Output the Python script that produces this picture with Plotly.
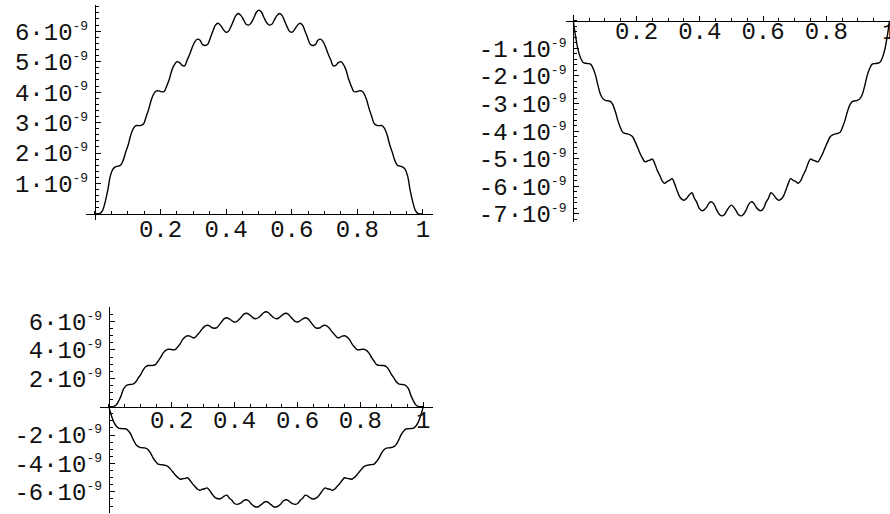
import plotly.graph_objects as go

# sample points along x (read at steps of 1/128)
X = [0, .0078, .0156, .0234, .0313, .0391, .0469, .0547, .0625, .0703, .0781, .0859,
     .0938, .1016, .1094, .1172, .125, .1328, .1406, .1484, .1563, .1641, .1719, .1797,
     .1875, .1953, .2031, .2109, .2188, .2266, .2344, .2422, .25, .2578, .2656, .2734,
     .2813, .2891, .2969, .3047, .3125, .3203, .3281, .3359, .3438, .3516, .3594, .3672,
     .375, .3828, .3906, .3984, .4063, .4141, .4219, .4297, .4375, .4453, .4531, .4609,
     .4688, .4766, .4844, .4922, .5,
     .5078, .5156, .5234, .5313, .5391, .5469, .5547, .5625, .5703, .5781, .5859, .5938,
     .6016, .6094, .6172, .625, .6328, .6406, .6484, .6563, .6641, .6719, .6797, .6875,
     .6953, .7031, .7109, .7188, .7266, .7344, .7422, .75, .7578, .7656, .7734, .7813,
     .7891, .7969, .8047, .8125, .8203, .8281, .8359, .8438, .8516, .8594, .8672, .875,
     .8828, .8906, .8984, .9063, .9141, .9219, .9297, .9375, .9453, .9531, .9609, .9688,
     .9766, .9844, .9922, 1]

# upper curve, in units of 1e-9
F1 = [0.00, 0.00, 0.02, 0.12, 0.40, 0.78, 1.25, 1.47, 1.55, 1.57, 1.60, 1.76, 2.03,
      2.28, 2.60, 2.81, 2.90, 2.90, 2.91, 2.96, 3.20, 3.45, 3.75, 3.95, 4.04, 4.04,
      4.01, 4.02, 4.20, 4.42, 4.72, 4.90, 5.00, 4.97, 4.88, 4.86, 5.06, 5.25, 5.48,
      5.66, 5.74, 5.70, 5.56, 5.53, 5.57, 5.78, 6.00, 6.20, 6.26, 6.19, 6.07, 5.97,
      5.99, 6.14, 6.33, 6.52, 6.58, 6.51, 6.37, 6.23, 6.20, 6.28, 6.44, 6.62, 6.69,
      6.62, 6.44, 6.28, 6.20, 6.23, 6.37, 6.51, 6.58, 6.52, 6.33, 6.14, 5.99, 5.97,
      6.07, 6.19, 6.26, 6.20, 6.00, 5.78, 5.57, 5.53, 5.56, 5.70, 5.74, 5.66, 5.48,
      5.25, 5.06, 4.86, 4.88, 4.97, 5.00, 4.90, 4.72, 4.42, 4.20, 4.02, 4.01, 4.04,
      4.04, 3.95, 3.75, 3.45, 3.20, 2.96, 2.91, 2.90, 2.90, 2.81, 2.60, 2.28, 2.03,
      1.76, 1.60, 1.57, 1.55, 1.47, 1.25, 0.78, 0.40, 0.12, 0.02, 0.00, 0.00]

# lower curve, in units of 1e-9
F2 = [0.00, -0.60, -1.07, -1.36, -1.51, -1.54, -1.55, -1.57, -1.72, -1.97, -2.34, -2.66,
      -2.82, -2.88, -2.90, -2.92, -3.04, -3.28, -3.60, -3.85, -4.04, -4.08, -4.10, -4.13,
      -4.20, -4.38, -4.58, -4.80, -4.98, -5.11, -5.08, -5.05, -5.01, -5.18, -5.42, -5.60,
      -5.80, -5.89, -5.82, -5.78, -5.72, -5.90, -6.15, -6.36, -6.47, -6.50, -6.42, -6.30,
      -6.23, -6.43, -6.58, -6.80, -6.88, -6.85, -6.75, -6.60, -6.56, -6.65, -6.85, -7.00,
      -7.07, -7.04, -6.90, -6.76, -6.68,
      -6.76, -6.90, -7.04, -7.07, -7.00, -6.85, -6.65, -6.56, -6.60, -6.75, -6.85, -6.88,
      -6.80, -6.58, -6.43, -6.23, -6.30, -6.42, -6.50, -6.47, -6.36, -6.15, -5.90, -5.72,
      -5.78, -5.82, -5.89, -5.80, -5.60, -5.42, -5.18, -5.01, -5.05, -5.08, -5.11, -4.98,
      -4.80, -4.58, -4.38, -4.20, -4.13, -4.10, -4.08, -4.04, -3.85, -3.60, -3.28, -3.04,
      -2.92, -2.90, -2.88, -2.82, -2.66, -2.34, -1.97, -1.72, -1.57, -1.55, -1.54, -1.51,
      -1.36, -1.07, -0.60, 0.00]

assert len(X) == len(F1) == len(F2), (len(X), len(F1), len(F2))

X_TICKS = [0.2, 0.4, 0.6, 0.8, 1]
X_LABELS = ["0.2", "0.4", "0.6", "0.8", "1"]
Y1_TICKS = [1, 2, 3, 4, 5, 6]
Y2_TICKS = [-7, -6, -5, -4, -3, -2, -1]
Y3_TICKS = [-6, -4, -2, 2, 4, 6]

E = 1e-9
FONT = dict(family="Liberation Mono, Courier New, monospace", size=24, color="#111")


def sci(v):
    return f"{v}\u00b710<sup><span style='font-size:13px'>-9</span></sup>"


def zero_pos(rng, dom):
    return dom[0] + (0 - rng[0]) / (rng[1] - rng[0]) * (dom[1] - dom[0])


def axis(rng, dom, pos, vals, text, minor_step, standoff):
    return dict(range=rng, domain=dom, anchor="free", position=pos,
                showgrid=False, zeroline=False, showline=True,
                linecolor="black", linewidth=1, automargin=False,
                ticks="inside", ticklen=5, tickwidth=1, tickcolor="black",
                tickmode="array", tickvals=vals, ticktext=text,
                tickfont=FONT, ticklabeloverflow="allow",
                ticklabelstandoff=standoff,
                minor=dict(tickmode="linear", tick0=0, dtick=minor_step,
                           ticks="inside", ticklen=3, tickwidth=1,
                           tickcolor="black", showgrid=False))


panels = [
    # x range, x domain, y range, y domain, y ticks, y minor, x label shift
    ([-0.0274, 1.0305], [0.0966, 0.4865], [-0.197, 6.86], [0.5720, 0.9903], Y1_TICKS, 0.2, -7),
    ([-0.024, 1.0015], [0.6356, 1.0], [-7.28, 0.21], [0.5687, 0.9708], Y2_TICKS, 0.2, -12),
    ([-0.028, 1.032], [0.1124, 0.4869], [-7.51, 7.0], [0.0014, 0.4021], Y3_TICKS, 0.5, -8),
]

fig = go.Figure()
line = dict(color="black", width=1.4, shape="spline", smoothing=1.0)
y1 = [v * E for v in F1]
y2 = [v * E for v in F2]
fig.add_trace(go.Scatter(x=X, y=y1, mode="lines", line=line, xaxis="x", yaxis="y"))
fig.add_trace(go.Scatter(x=X, y=y2, mode="lines", line=line, xaxis="x2", yaxis="y2"))
fig.add_trace(go.Scatter(x=X, y=y1, mode="lines", line=line, xaxis="x3", yaxis="y3"))
fig.add_trace(go.Scatter(x=X, y=y2, mode="lines", line=line, xaxis="x3", yaxis="y3"))

layout = {}
for i, (xr, xd, yr, yd, yt, ym, xs) in enumerate(panels, start=1):
    yr_e = [yr[0] * E, yr[1] * E]
    sfx = "" if i == 1 else str(i)
    layout["xaxis" + sfx] = axis(xr, xd, zero_pos(yr, yd), X_TICKS, X_LABELS, 0.05, xs)
    layout["yaxis" + sfx] = axis(yr_e, yd, zero_pos(xr, xd),
                                 [v * E for v in yt], [sci(v) for v in yt], ym * E, 2)

fig.update_layout(**layout)
fig.update_layout(width=890, height=514, margin=dict(l=0, r=0, t=0, b=0),
                  autosize=False, showlegend=False,
                  paper_bgcolor="white", plot_bgcolor="white")
fig.write_html("out.html", config={"displayModeBar": False, "responsive": False},
               post_script="document.body.style.margin='0px';"
                           "document.body.style.overflow='hidden';")
